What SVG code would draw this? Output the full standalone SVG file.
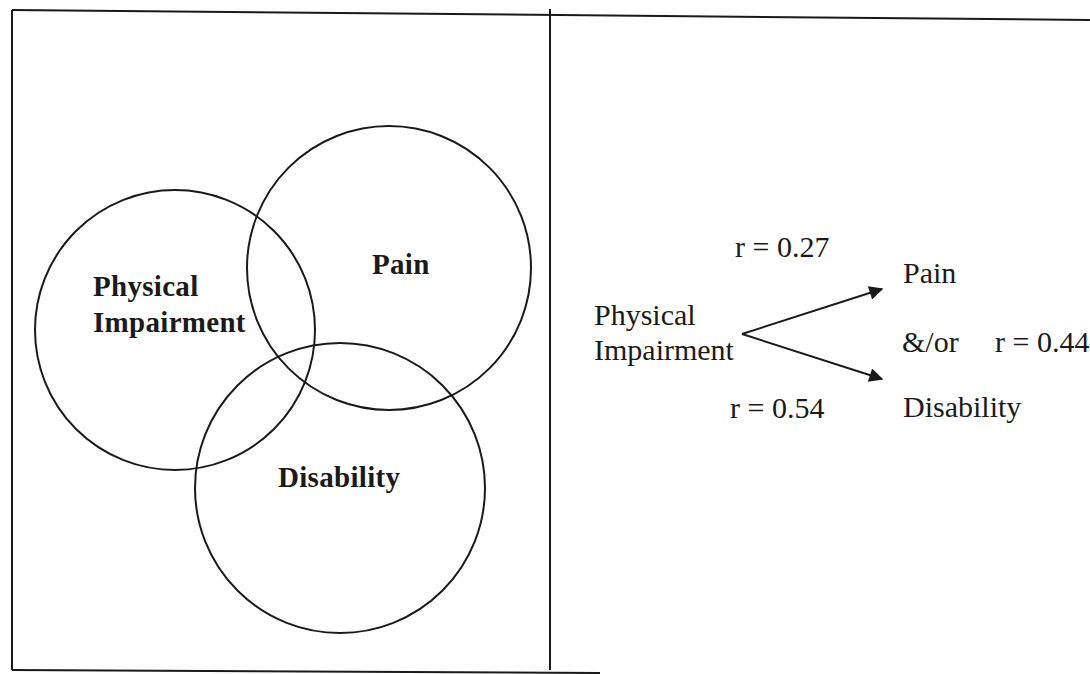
<svg xmlns="http://www.w3.org/2000/svg" width="1090" height="674" viewBox="0 0 1090 674">
<defs>
<style>
.frame{stroke:#1a1a1a;stroke-width:2;fill:none}
.circ{stroke:#1a1a1a;stroke-width:2;fill:none}
.bold{font-family:"Liberation Serif","Times New Roman",serif;font-weight:bold;font-size:29px;letter-spacing:0.3px;fill:#1a1a1a}
.reg{font-family:"Liberation Serif","Times New Roman",serif;font-size:30px;fill:#1a1a1a}
.conn{stroke:#1a1a1a;stroke-width:2;fill:none}
</style>
<marker id="arr" viewBox="0 0 10 10" refX="9" refY="5" markerWidth="8" markerHeight="7" markerUnits="strokeWidth" orient="auto">
<path d="M0,0 L10,5 L0,10 z" fill="#1a1a1a"/>
</marker>
</defs>
<g id="frame">
<line class="frame" x1="12" y1="10" x2="1090" y2="20"/>
<line class="frame" x1="12" y1="10" x2="12" y2="670"/>
<line class="frame" x1="12" y1="670" x2="600" y2="673"/>
<line class="frame" x1="550" y1="9" x2="550" y2="670"/>
</g>
<g id="node-physical-impairment">
<circle class="circ" cx="175" cy="330" r="140"/>
<text class="bold" x="93" y="296">Physical</text>
<text class="bold" x="93" y="332">Impairment</text>
</g>
<g id="node-pain">
<circle class="circ" cx="389" cy="268" r="142"/>
<text class="bold" x="372" y="274">Pain</text>
</g>
<g id="node-disability">
<circle class="circ" cx="340" cy="488" r="145"/>
<text class="bold" x="278" y="487">Disability</text>
</g>
<g id="node-pi-right">
<text class="reg" x="594" y="325">Physical</text>
<text class="reg" x="594" y="360">Impairment</text>
</g>
<g id="node-pain-right">
<text class="reg" x="903" y="283">Pain</text>
</g>
<g id="node-andor">
<text class="reg" x="902" y="352">&amp;/or</text>
</g>
<g id="node-disability-right">
<text class="reg" x="903" y="417">Disability</text>
</g>
<g id="connectors">
<line class="conn" x1="742" y1="334" x2="882" y2="289" marker-end="url(#arr)"/>
<line class="conn" x1="742" y1="334" x2="882" y2="379" marker-end="url(#arr)"/>
</g>
<g id="labels">
<text class="reg" x="735" y="257">r = 0.27</text>
<text class="reg" x="730" y="418">r = 0.54</text>
<text class="reg" x="995" y="352">r = 0.44</text>
</g>
</svg>
